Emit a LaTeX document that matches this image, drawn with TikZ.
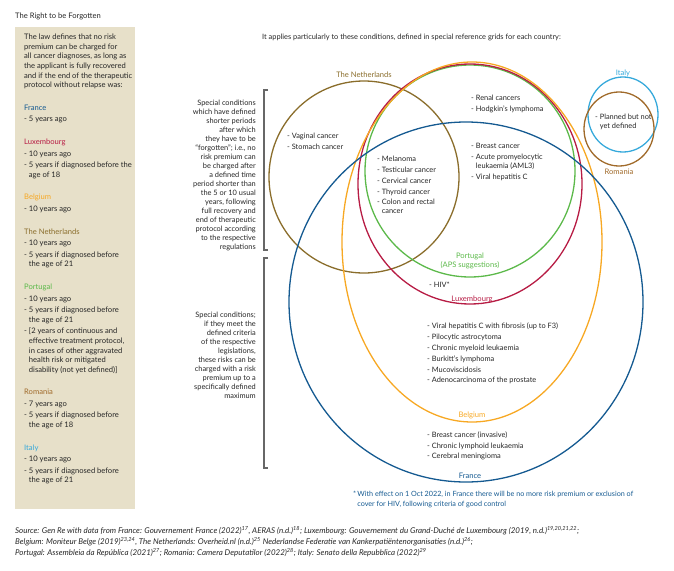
\documentclass[tikz,border=0pt]{standalone}
\usepackage{fontspec}
\setmainfont{Lato}
\usetikzlibrary{shapes.geometric}

\definecolor{ink}{HTML}{262626}
\definecolor{panel}{HTML}{E7E0C9}
\definecolor{cNL}{HTML}{8A6D2B}
\definecolor{cPT}{HTML}{5CB94A}
\definecolor{cLU}{HTML}{B71C44}
\definecolor{cBE}{HTML}{F7A823}
\definecolor{cFR}{HTML}{155A91}
\definecolor{cIT}{HTML}{36A9DB}
\definecolor{cRO}{HTML}{A06A2A}

\begin{document}
\begin{tikzpicture}[x=1pt, y=-1pt,
    ring/.style={draw=#1, ellipse, inner sep=0pt, outer sep=0pt, line width=1.3pt},
    body/.style={font=\fontsize{7.4}{9}\selectfont, text=ink, inner sep=0pt, align=left, anchor=north west},
    side/.style={font=\fontsize{7.6}{9.7}\selectfont, text=ink, inner sep=0pt, align=left, anchor=north west},
    lbl/.style={font=\fontsize{7.6}{9}\selectfont, text=#1, inner sep=0pt, align=center},
    brk/.style={draw=ink!70, line width=1.2pt}]
    \useasboundingbox (0,0) rectangle (674,570);

    % left panel
    \node[side] (title) at (15,13) {The Right to be Forgotten};
    \fill[panel] (15,27) rectangle (135,509);
    \node[side] (intro) at (24,33.7) {The law defines that no risk\\premium can be charged for\\all cancer diagnoses, as long as\\the applicant is fully recovered\\and if the end of the therapeutic\\protocol without relapse was:};
    \foreach \name/\col/\y [count=\i] in {France/cFR/104.7, Luxembourg/cLU/139, Belgium/cBE/194,
        The Netherlands/cNL/228.7, Portugal/cPT/284, Romania/cRO/389, Italy/cIT/444.7} {
        \node[side, text=\col] (cty\i) at (24,\y) {\name};
    }
    \node[side] (ls1) at (24,116) {- 5 years ago};
    \node[side] (ls2) at (24,150.7) {- 10 years ago\\[1.6pt]- 5 years if diagnosed before the\\\hphantom{- }age of 18};
    \node[side] (ls3) at (24,206) {- 10 years ago};
    \node[side] (ls4) at (24,240) {- 10 years ago\\[1.6pt]- 5 years if diagnosed before\\\hphantom{- }the age of 21};
    \node[side] (ls5) at (24,295.7) {- 10 years ago\\[1.6pt]- 5 years if diagnosed before\\\hphantom{- }the age of 21\\[1.6pt]- [2 years of continuous and\\\hphantom{- }effective treatment protocol,\\\hphantom{- }in cases of other aggravated\\\hphantom{- }health risk or mitigated\\\hphantom{- }disability (not yet defined)]};
    \node[side] (ls6) at (24,400.7) {- 7 years ago\\[1.6pt]- 5 years if diagnosed before\\\hphantom{- }the age of 18};
    \node[side] (ls7) at (24,456) {- 10 years ago\\[1.6pt]- 5 years if diagnosed before\\\hphantom{- }the age of 21};

    % heading and brackets
    \node[body] (head) at (262,34) {It applies particularly to these conditions, defined in special reference grids for each country:};
    \draw[brk] (268,90) -- (264,90) -- (264,250) -- (268,250);
    \draw[brk] (268,258) -- (264,258) -- (264,468) -- (268,468);
    \node[body, align=right, anchor=north east] (short) at (256,100.3) {Special conditions\\which have defined\\shorter periods\\after which\\they have to be\\“forgotten”; i.e., no\\risk premium can\\be charged after\\a defined time\\period shorter than\\the 5 or 10 usual\\years, following\\full recovery and\\end of therapeutic\\protocol according\\to the respective\\regulations};
    \node[body, align=right, anchor=north east] (capped) at (256,312) {Special conditions;\\if they meet the\\defined criteria\\of the respective\\legislations,\\these risks can be\\charged with a risk\\premium up to a\\specifically defined\\maximum};

    % country circles
    \node[ring=cNL, minimum width=190pt, minimum height=192pt] (NL) at (364,177) {};
    \node[ring=cPT, minimum width=210pt, minimum height=212pt] (PT) at (470,171) {};
    \node[ring=cLU, minimum width=224pt, minimum height=240pt] (LU) at (470,184) {};
    \node[ring=cBE, minimum width=260pt, minimum height=360pt] (BE) at (472,242) {};
    \node[ring=cFR, minimum width=354pt, minimum height=360pt] (FR) at (466,302) {};
    \node[ring=cIT, minimum width=70pt, minimum height=75pt] (IT) at (623,114.5) {};
    \node[ring=cRO, minimum width=70pt, minimum height=74pt] (RO) at (619,129) {};

    % circle labels
    \node[lbl=cNL] (tNL) at ([yshift=6pt]NL.north) {The Netherlands};
    \node[lbl=cPT] (tPT) at ([yshift=16pt]PT.south) {Portugal\\(APS suggestions)};
    \node[lbl=cLU] (tLU) at ([xshift=2pt, yshift=5pt]LU.south) {Luxembourg};
    \node[lbl=cBE] (tBE) at ([yshift=7pt]BE.south) {Belgium};
    \node[lbl=cFR] (tFR) at ([xshift=4pt, yshift=6pt]FR.south) {France};
    \node[lbl=cIT] (tIT) at ([yshift=4pt]IT.north) {Italy};
    \node[lbl=cRO] (tRO) at ([yshift=-6pt]RO.south) {Romania};

    % conditions
    \node[body] (vag) at (287,133) {- Vaginal cancer\\[1.8pt]- Stomach cancer};
    \node[body] (mel) at (377,156) {- Melanoma\\[1.8pt]- Testicular cancer\\[1.8pt]- Cervical cancer\\[1.8pt]- Thyroid cancer\\[1.8pt]- Colon and rectal\\\hphantom{- }cancer};
    \node[body] (ren) at (471,95.3) {- Renal cancers\\[1.8pt]- Hodgkin’s lymphoma};
    \node[body] (bre) at (471,143) {- Breast cancer\\[1.8pt]- Acute promyelocytic\\\hphantom{- }leukaemia (AML3)\\[1.8pt]- Viral hepatitis C};
    \node[body] (hiv) at (429,282) {- HIV*};
    \node[body] (vhc) at (427,323) {- Viral hepatitis C with fibrosis (up to F3)\\[1.8pt]- Pilocytic astrocytoma\\[1.8pt]- Chronic myeloid leukaemia\\[1.8pt]- Burkitt’s lymphoma\\[1.8pt]- Mucoviscidosis\\[1.8pt]- Adenocarcinoma of the prostate};
    \node[body] (inv) at (427,431.3) {- Breast cancer (invasive)\\[1.8pt]- Chronic lymphoid leukaemia\\[1.8pt]- Cerebral meningioma};
    \node[body] (plan) at (595,114) {- Planned but not\\\hphantom{- }yet defined};

    % footnote and source
    \node[body, text=cFR, font=\fontsize{7.2}{10}\selectfont] (note) at (353,491) {*\,With effect on 1 Oct 2022, in France there will be no more risk premium or exclusion of\\\hphantom{*\,}cover for HIV, following criteria of good control};
    \node[body, font=\fontsize{7.95}{11.2}\selectfont\itshape] (src) at (15,526) {Source: Gen Re with data from France: Gouvernement France (2022)\textsuperscript{17}, AERAS (n.d.)\textsuperscript{18}; Luxembourg: Gouvernement du Grand-Duché de Luxembourg (2019, n.d.)\textsuperscript{19,20,21,22};\\Belgium: Moniteur Belge (2019)\textsuperscript{23,24}, The Netherlands: Overheid.nl (n.d.)\textsuperscript{25} Nederlandse Federatie van Kankerpatiëntenorganisaties (n.d.)\textsuperscript{26};\\Portugal: Assembleia da República (2021)\textsuperscript{27}; Romania: Camera Deputatilor (2022)\textsuperscript{28}; Italy: Senato della Repubblica (2022)\textsuperscript{29}};
\end{tikzpicture}
\end{document}
